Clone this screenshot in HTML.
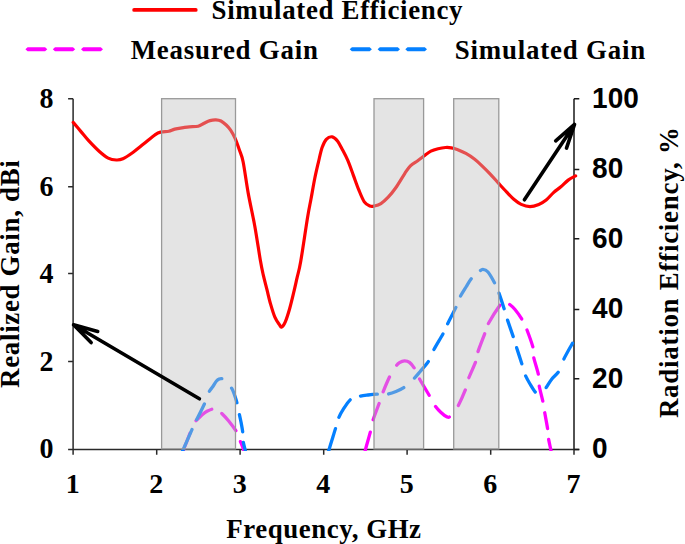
<!DOCTYPE html>
<html><head><meta charset="utf-8"><style>
html,body{margin:0;padding:0;background:#fff;width:685px;height:544px;overflow:hidden}
svg{display:block}
</style></head><body>
<svg width="685" height="544" viewBox="0 0 685 544">
<path d="M73.1,98.8 V449.5 M68.1,449.5 H579.3 M68.1,449.5 H73.1 M68.1,361.6 H73.1 M68.1,273.6 H73.1 M68.1,186.7 H73.1 M68.1,98.8 H73.1 M73.1,449.5 V454.7 M156.7,449.5 V454.7 M240.1,449.5 V454.7 M323.7,449.5 V454.7 M407.1,449.5 V454.7 M490.7,449.5 V454.7 M574.0,449.5 V454.7" stroke="#2a2a2a" stroke-width="1.5" fill="none"/>
<path d="M574,98.7 V449.5 M574,449.5 H579.3 M574,378.7 H579.3 M574,309.6 H579.3 M574,238.7 H579.3 M574,169.6 H579.3 M574,98.7 H579.3" stroke="#1a1a1a" stroke-width="1.5" fill="none"/>
<defs><clipPath id="pc"><rect x="73" y="90" width="502" height="361"/></clipPath></defs>
<path d="M73.20,122.40 C74.50,123.93 78.47,128.60 81.00,131.60 C83.53,134.60 85.33,137.08 88.40,140.40 C91.47,143.72 96.10,148.55 99.40,151.50 C102.70,154.45 105.38,156.68 108.20,158.10 C111.02,159.52 113.85,159.88 116.30,160.00 C118.75,160.12 120.08,160.10 122.90,158.80 C125.72,157.50 129.77,154.65 133.20,152.20 C136.63,149.75 139.82,147.03 143.50,144.10 C147.18,141.17 152.35,136.62 155.30,134.60 C158.25,132.58 158.95,132.57 161.20,132.00 C163.45,131.43 166.55,131.68 168.80,131.20 C171.05,130.72 172.25,129.70 174.70,129.10 C177.15,128.50 181.05,127.98 183.50,127.60 C185.95,127.22 186.95,127.03 189.40,126.80 C191.85,126.57 195.75,126.80 198.20,126.20 C200.65,125.60 202.13,124.13 204.10,123.20 C206.07,122.27 208.03,121.15 210.00,120.60 C211.97,120.05 214.07,119.83 215.90,119.90 C217.73,119.97 219.28,120.15 221.00,121.00 C222.72,121.85 224.60,123.48 226.20,125.00 C227.80,126.52 229.13,127.90 230.60,130.10 C232.07,132.30 233.53,134.88 235.00,138.20 C236.47,141.52 238.05,146.07 239.40,150.00 C240.75,153.93 241.63,154.62 243.10,161.80 C244.57,168.98 246.25,182.37 248.20,193.10 C250.15,203.83 252.78,215.05 254.80,226.20 C256.82,237.35 258.90,251.92 260.30,260.00 C261.70,268.08 262.10,269.80 263.20,274.70 C264.30,279.60 265.67,284.50 266.90,289.40 C268.13,294.30 269.25,299.43 270.60,304.10 C271.95,308.77 273.53,313.97 275.00,317.40 C276.47,320.83 278.30,323.10 279.40,324.70 C280.50,326.30 280.62,327.48 281.60,327.00 C282.58,326.52 283.95,324.88 285.30,321.80 C286.65,318.72 288.23,313.65 289.70,308.50 C291.17,303.35 292.87,296.05 294.10,290.90 C295.33,285.75 296.00,282.50 297.10,277.60 C298.20,272.70 298.95,271.55 300.70,261.50 C302.45,251.45 305.88,227.72 307.60,217.30 C309.32,206.88 309.82,205.42 311.00,199.00 C312.18,192.58 313.47,184.92 314.70,178.80 C315.93,172.68 317.17,167.50 318.40,162.30 C319.63,157.10 320.78,151.43 322.10,147.60 C323.42,143.77 324.62,141.10 326.30,139.30 C327.98,137.50 330.33,136.52 332.20,136.80 C334.07,137.08 335.82,138.90 337.50,141.00 C339.18,143.10 340.58,146.17 342.30,149.40 C344.02,152.63 345.97,156.12 347.80,160.40 C349.63,164.68 351.47,170.18 353.30,175.10 C355.13,180.02 356.97,185.45 358.80,189.90 C360.63,194.35 362.45,199.12 364.30,201.80 C366.15,204.48 368.22,205.30 369.90,206.00 C371.58,206.70 372.57,206.40 374.40,206.00 C376.23,205.60 378.60,205.07 380.90,203.60 C383.20,202.13 385.75,199.80 388.20,197.20 C390.65,194.60 392.87,191.90 395.60,188.00 C398.33,184.10 402.13,177.50 404.60,173.80 C407.07,170.10 408.22,167.98 410.40,165.80 C412.58,163.62 415.50,162.28 417.70,160.70 C419.90,159.12 421.40,157.88 423.60,156.30 C425.80,154.72 428.47,152.47 430.90,151.20 C433.33,149.93 435.77,149.32 438.20,148.70 C440.63,148.08 443.32,147.65 445.50,147.50 C447.68,147.35 449.35,147.48 451.30,147.80 C453.25,148.12 454.77,148.47 457.20,149.40 C459.63,150.33 462.98,151.77 465.90,153.40 C468.82,155.03 472.02,157.13 474.70,159.20 C477.38,161.27 479.45,163.37 482.00,165.80 C484.55,168.23 487.27,170.92 490.00,173.80 C492.73,176.68 495.65,180.08 498.40,183.10 C501.15,186.12 503.93,189.20 506.50,191.90 C509.07,194.60 511.35,197.22 513.80,199.30 C516.25,201.38 518.50,203.18 521.20,204.40 C523.90,205.62 527.07,206.60 530.00,206.60 C532.93,206.60 536.10,205.50 538.80,204.40 C541.50,203.30 543.75,201.97 546.20,200.00 C548.65,198.03 551.05,194.80 553.50,192.60 C555.95,190.40 558.45,188.88 560.90,186.80 C563.35,184.72 565.75,181.92 568.20,180.10 C570.65,178.28 574.37,176.60 575.60,175.90" stroke="#ff0000" stroke-width="3.2" fill="none" stroke-linejoin="round" stroke-linecap="round"/>
<g clip-path="url(#pc)" fill="none" stroke-linejoin="round">
<path d="M182.60,454.00 C182.77,453.25 182.87,451.67 183.60,449.50 C184.33,447.33 185.85,443.92 187.00,441.00 C188.15,438.08 189.42,434.75 190.50,432.00 C191.58,429.25 192.72,426.25 193.50,424.50 C194.28,422.75 194.37,422.53 195.20,421.50 C196.03,420.47 197.28,419.48 198.50,418.30 C199.72,417.12 201.08,415.57 202.50,414.40 C203.92,413.23 205.28,412.20 207.00,411.30 C208.72,410.40 211.22,409.28 212.80,409.00 C214.38,408.72 215.15,409.00 216.50,409.60 C217.85,410.20 218.90,410.75 220.90,412.60 C222.90,414.45 225.92,417.53 228.50,420.70 C231.08,423.87 234.50,428.33 236.40,431.60 C238.30,434.87 238.73,437.38 239.90,440.30 C241.07,443.22 242.67,446.82 243.40,449.10 C244.13,451.38 244.15,453.18 244.30,454.00" stroke="#ff00ff" stroke-width="3.3" stroke-dasharray="0.00 1.30 20.83 14.14 19.32 11.78 21.99 12.00 11.86 214.52" stroke-linecap="round" fill="none" />
<path d="M364.70,454.00 C364.82,453.30 364.42,453.63 365.40,449.80 C366.38,445.97 369.37,435.83 370.60,431.00 C371.83,426.17 371.32,425.57 372.80,420.80 C374.28,416.03 377.85,407.05 379.50,402.40 C381.15,397.75 380.95,397.30 382.70,392.90 C384.45,388.50 387.82,380.42 390.00,376.00 C392.18,371.58 394.22,368.63 395.80,366.40 C397.38,364.17 398.05,363.53 399.50,362.60 C400.95,361.67 402.83,360.83 404.50,360.80 C406.17,360.77 407.78,361.05 409.50,362.40 C411.22,363.75 413.22,366.30 414.80,368.90 C416.38,371.50 416.52,373.45 419.00,378.00 C421.48,382.55 427.08,391.65 429.70,396.20 C432.32,400.75 432.82,402.58 434.70,405.30 C436.58,408.02 438.95,410.57 441.00,412.50 C443.05,414.43 445.43,416.32 447.00,416.90 C448.57,417.48 448.62,417.72 450.40,416.00 C452.18,414.28 455.15,411.10 457.70,406.60 C460.25,402.10 463.92,393.62 465.70,389.00 C467.48,384.38 466.72,383.50 468.40,378.90 C470.08,374.30 474.27,365.75 475.80,361.40 C477.33,357.05 476.07,357.55 477.60,352.80 C479.13,348.05 483.30,337.60 485.00,332.90 C486.70,328.20 485.23,329.32 487.80,324.60 C490.37,319.88 497.62,308.27 500.40,304.60 C503.18,300.93 503.13,302.75 504.50,302.60 C505.87,302.45 506.85,302.55 508.60,303.70 C510.35,304.85 512.73,306.82 515.00,309.50 C517.27,312.18 520.28,316.60 522.20,319.80 C524.12,323.00 524.68,324.03 526.50,328.70 C528.32,333.37 531.93,343.15 533.10,347.80 C534.27,352.45 532.60,352.07 533.50,356.60 C534.40,361.13 537.58,370.30 538.50,375.00 C539.42,379.70 538.25,380.30 539.00,384.80 C539.75,389.30 542.08,397.57 543.00,402.00 C543.92,406.43 543.72,406.83 544.50,411.40 C545.28,415.97 547.05,424.97 547.70,429.40 C548.35,433.83 547.88,434.62 548.40,438.00 C548.92,441.38 550.28,447.03 550.80,449.70 C551.32,452.37 551.38,453.28 551.50,454.00" stroke="#ff00ff" stroke-width="3.3" stroke-dasharray="0.00 1.30 21.18 13.04 16.98 12.63 15.81 13.83 21.92 12.63 18.51 12.99 18.39 14.54 16.75 13.07 16.40 11.42 18.63 11.41 21.05 12.07 18.64 12.50 17.62 11.48 16.47 12.44 15.06 12.12 15.68 11.24 13.70 572.82" stroke-linecap="round" fill="none" />
<path d="M181.60,454.00 C181.87,453.27 181.40,453.83 183.20,449.60 C185.00,445.37 190.23,433.43 192.40,428.60 C194.57,423.77 194.12,424.88 196.20,420.60 C198.28,416.32 202.82,407.58 204.90,402.90 C206.98,398.22 207.37,395.23 208.70,392.50 C210.03,389.77 211.60,388.42 212.90,386.50 C214.20,384.58 215.43,382.25 216.50,381.00 C217.57,379.75 218.47,379.38 219.30,379.00 C220.13,378.62 220.88,378.67 221.50,378.70 C222.12,378.73 222.03,378.60 223.00,379.20 C223.97,379.80 226.00,381.00 227.30,382.30 C228.60,383.60 229.83,385.53 230.80,387.00 C231.77,388.47 232.33,389.33 233.10,391.10 C233.87,392.87 234.72,395.45 235.40,397.60 C236.08,399.75 236.58,401.40 237.20,404.00 C237.82,406.60 238.47,410.20 239.10,413.20 C239.73,416.20 240.38,418.73 241.00,422.00 C241.62,425.27 242.45,429.63 242.80,432.80 C243.15,435.97 242.70,438.13 243.10,441.00 C243.50,443.87 244.72,447.83 245.20,450.00 C245.68,452.17 245.87,453.33 246.00,454.00" stroke="#0580ff" stroke-width="3.3" stroke-dasharray="0.00 1.30 25.02 11.46 17.12 13.68 18.66 13.78 15.66 11.99 17.35 10.81 10.73 268.87" stroke-linecap="round" fill="none" />
<path d="M328.20,454.00 C328.33,453.30 327.73,454.20 329.00,449.80 C330.27,445.40 334.23,432.82 335.80,427.60 C337.37,422.38 337.17,421.53 338.40,418.50 C339.63,415.47 341.10,412.63 343.20,409.40 C345.30,406.17 348.33,401.28 351.00,399.10 C353.67,396.92 356.37,396.98 359.20,396.30 C362.03,395.62 364.78,395.37 368.00,395.00 C371.22,394.63 375.28,394.23 378.50,394.10 C381.72,393.97 384.38,394.63 387.30,394.20 C390.22,393.77 393.08,392.72 396.00,391.50 C398.92,390.28 401.90,388.95 404.80,386.90 C407.70,384.85 410.87,381.73 413.40,379.20 C415.93,376.67 417.42,374.78 420.00,371.70 C422.58,368.62 426.68,364.22 428.90,360.70 C431.12,357.18 430.88,355.20 433.30,350.60 C435.72,346.00 441.10,337.38 443.40,333.10 C445.70,328.82 444.95,329.33 447.10,324.90 C449.25,320.47 454.17,311.10 456.30,306.50 C458.43,301.90 458.28,300.55 459.90,297.30 C461.52,294.05 464.00,290.22 466.00,287.00 C468.00,283.78 469.70,280.58 471.90,278.00 C474.10,275.42 477.37,272.95 479.20,271.50 C481.03,270.05 481.43,269.22 482.90,269.30 C484.37,269.38 486.00,269.63 488.00,272.00 C490.00,274.37 493.15,280.20 494.90,283.50 C496.65,286.80 496.92,287.45 498.50,291.80 C500.08,296.15 502.97,305.10 504.40,309.60 C505.83,314.10 505.58,314.15 507.10,318.80 C508.62,323.45 511.98,332.92 513.50,337.50 C515.02,342.08 514.77,341.77 516.20,346.30 C517.63,350.83 520.63,360.00 522.10,364.70 C523.57,369.40 523.68,371.28 525.00,374.50 C526.32,377.72 528.18,380.97 530.00,384.00 C531.82,387.03 534.23,391.20 535.90,392.70 C537.57,394.20 538.43,393.66 540.00,393.00 C541.57,392.34 543.38,391.02 545.30,388.75 C547.22,386.48 549.27,382.27 551.50,379.40 C553.73,376.52 556.75,374.68 558.70,371.50 C560.65,368.32 560.85,365.12 563.20,360.30 C565.55,355.48 571.00,345.98 572.80,342.60 C574.60,339.22 573.80,340.43 574.00,340.00" stroke="#0580ff" stroke-width="3.3" stroke-dasharray="0.00 1.30 24.92 12.07 20.67 11.37 16.84 11.41 16.48 14.16 21.56 13.64 17.61 11.60 17.97 12.49 20.15 12.39 21.23 11.66 16.15 12.19 17.17 11.81 16.72 12.83 18.68 13.94 19.34 14.69 17.54 564.82" stroke-linecap="round" fill="none" />
</g>
<rect x="161.6" y="98.7" width="73.9" height="350.2" fill="rgba(190,190,190,0.42)" stroke="#999" stroke-width="1.3"/>
<rect x="374.0" y="98.7" width="49.6" height="350.2" fill="rgba(190,190,190,0.42)" stroke="#999" stroke-width="1.3"/>
<rect x="453.7" y="98.7" width="45.1" height="350.2" fill="rgba(190,190,190,0.42)" stroke="#999" stroke-width="1.3"/>
<path d="M199.4,398.8 L73.6,324.8 M97.7,331.5 L73.6,324.8 L91.1,342.6" stroke="#000" stroke-width="3.6" fill="none" stroke-linecap="round" stroke-linejoin="round"/><path d="M73.6,324.8 L83.7,327.6 L81.0,332.3 Z" fill="#000" stroke="#000" stroke-width="2" stroke-linejoin="round"/>
<path d="M524.4,199.8 L574.5,124.4 M566.5,148.1 L574.5,124.4 L555.7,140.9" stroke="#000" stroke-width="3.6" fill="none" stroke-linecap="round" stroke-linejoin="round"/><path d="M574.5,124.4 L571.2,134.4 L566.6,131.3 Z" fill="#000" stroke="#000" stroke-width="2" stroke-linejoin="round"/>
<text transform="translate(53.6,458.00) scale(1,1.035)" text-anchor="end" style="font-family:'Liberation Serif',serif;font-weight:bold;font-size:28px">0</text>
<text transform="translate(53.6,370.90) scale(1,1.035)" text-anchor="end" style="font-family:'Liberation Serif',serif;font-weight:bold;font-size:28px">2</text>
<text transform="translate(53.6,283.40) scale(1,1.035)" text-anchor="end" style="font-family:'Liberation Serif',serif;font-weight:bold;font-size:28px">4</text>
<text transform="translate(53.6,195.55) scale(1,1.035)" text-anchor="end" style="font-family:'Liberation Serif',serif;font-weight:bold;font-size:28px">6</text>
<text transform="translate(53.6,108.35) scale(1,1.035)" text-anchor="end" style="font-family:'Liberation Serif',serif;font-weight:bold;font-size:28px">8</text>
<text transform="translate(592.1,458.1) scale(0.943,1)" style="font-family:'Liberation Sans',sans-serif;font-weight:bold;font-size:29.7px">0</text>
<text transform="translate(592.1,387.6) scale(0.943,1)" style="font-family:'Liberation Sans',sans-serif;font-weight:bold;font-size:29.7px">20</text>
<text transform="translate(592.1,317.9) scale(0.943,1)" style="font-family:'Liberation Sans',sans-serif;font-weight:bold;font-size:29.7px">40</text>
<text transform="translate(592.1,248.1) scale(0.943,1)" style="font-family:'Liberation Sans',sans-serif;font-weight:bold;font-size:29.7px">60</text>
<text transform="translate(592.1,178.1) scale(0.943,1)" style="font-family:'Liberation Sans',sans-serif;font-weight:bold;font-size:29.7px">80</text>
<text transform="translate(592.1,108.0) scale(0.943,1)" style="font-family:'Liberation Sans',sans-serif;font-weight:bold;font-size:29.7px">100</text>
<text transform="translate(72.7,492.9)" text-anchor="middle" style="font-family:'Liberation Serif',serif;font-weight:bold;font-size:28px">1</text>
<text transform="translate(156.3,492.9)" text-anchor="middle" style="font-family:'Liberation Serif',serif;font-weight:bold;font-size:28px">2</text>
<text transform="translate(239.7,492.9)" text-anchor="middle" style="font-family:'Liberation Serif',serif;font-weight:bold;font-size:28px">3</text>
<text transform="translate(323.3,492.9)" text-anchor="middle" style="font-family:'Liberation Serif',serif;font-weight:bold;font-size:28px">4</text>
<text transform="translate(406.7,492.9)" text-anchor="middle" style="font-family:'Liberation Serif',serif;font-weight:bold;font-size:28px">5</text>
<text transform="translate(490.3,492.9)" text-anchor="middle" style="font-family:'Liberation Serif',serif;font-weight:bold;font-size:28px">6</text>
<text transform="translate(573.6,492.9)" text-anchor="middle" style="font-family:'Liberation Serif',serif;font-weight:bold;font-size:28px">7</text>
<text transform="translate(226.30,537.80) scale(0.96,1) translate(-0.00,0)" style="font-family:'Liberation Serif',serif;font-weight:bold;font-size:28px;letter-spacing:0.571px">Frequency, GHz</text>
<text transform="translate(19.10,387.90) rotate(-90) scale(0.96,1) translate(-0.00,0)" style="font-family:'Liberation Serif',serif;font-weight:bold;font-size:28px;letter-spacing:0.729px">Realized Gain, dBi</text>
<text transform="translate(678.00,418.10) rotate(-90) scale(0.96,1) translate(-0.00,0)" style="font-family:'Liberation Serif',serif;font-weight:bold;font-size:28px;letter-spacing:0.801px">Radiation Efficiency, %</text>
<line x1="134.1" y1="9.9" x2="195.8" y2="9.9" stroke="#ff0000" stroke-width="3.7" stroke-linecap="round"/>
<text transform="translate(211.60,18.70) scale(0.96,1) translate(-0.00,0)" style="font-family:'Liberation Serif',serif;font-weight:bold;font-size:28px;letter-spacing:0.703px">Simulated Efficiency</text>
<path d="M25.4,49.20 L27.6,47.25 L45.1,47.25 L47.3,49.20 L45.1,51.15 L27.6,51.15 Z M52.8,49.20 L55.0,47.25 L73.0,47.25 L75.2,49.20 L73.0,51.15 L55.0,51.15 Z M81.0,49.20 L83.2,47.25 L100.8,47.25 L103.0,49.20 L100.8,51.15 L83.2,51.15 Z" fill="#ff00ff"/>
<text transform="translate(130.70,58.90) scale(0.96,1) translate(-0.00,0)" style="font-family:'Liberation Serif',serif;font-weight:bold;font-size:28px;letter-spacing:0.800px">Measured Gain</text>
<path d="M349.7,49.20 L351.9,47.25 L369.7,47.25 L371.9,49.20 L369.7,51.15 L351.9,51.15 Z M377.6,49.20 L379.8,47.25 L397.8,47.25 L400.0,49.20 L397.8,51.15 L379.8,51.15 Z M405.3,49.20 L407.5,47.25 L424.8,47.25 L427.0,49.20 L424.8,51.15 L407.5,51.15 Z" fill="#0580ff"/>
<text transform="translate(454.80,58.70) scale(0.96,1) translate(-0.00,0)" style="font-family:'Liberation Serif',serif;font-weight:bold;font-size:28px;letter-spacing:0.841px">Simulated Gain</text>
</svg>
</body></html>
